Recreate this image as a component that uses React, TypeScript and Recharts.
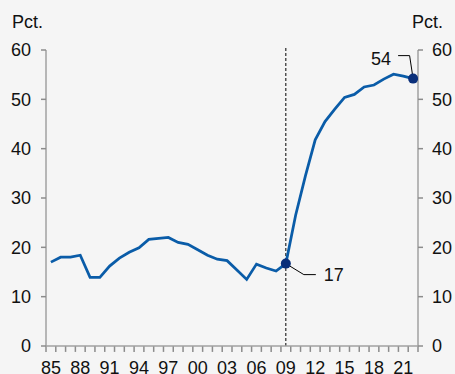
import React from 'react';
import { LineChart, Line, XAxis, YAxis, ReferenceLine } from 'recharts';

const years: number[] = [
  1985, 1986, 1987, 1988, 1989, 1990, 1991, 1992, 1993, 1994,
  1995, 1996, 1997, 1998, 1999, 2000, 2001, 2002, 2003, 2004,
  2005, 2006, 2007, 2008, 2009, 2010, 2011, 2012, 2013, 2014,
  2015, 2016, 2017, 2018, 2019, 2020, 2021, 2022,
];
const share: number[] = [
  17.0, 18.0, 18.0, 18.4, 13.9, 13.9, 16.2, 17.8, 19.0, 19.9,
  21.6, 21.8, 22.0, 21.0, 20.6, 19.5, 18.4, 17.6, 17.3, 15.4,
  13.5, 16.6, 15.8, 15.2, 16.7, 26.5, 34.5, 41.8, 45.5, 48.0,
  50.4, 51.0, 52.5, 52.9, 54.1, 55.1, 54.7, 54.2,
];
const yTicks: number[] = [0, 10, 20, 30, 40, 50, 60];
const markerYear = 2009;
const highlightYears: number[] = [2009, 2022];
const unitLabel = 'Pct.';

const data = years.map((y, i) => ({ year: y, v: share[i] }));
const boundaries = years.map((y) => y - 0.5).concat([years[years.length - 1] + 0.5]);

const FONT = '"Liberation Sans", Arial, sans-serif';
const AXIS = '#a0a0a0';
const TICK = '#8c8c8c';
const LINE = '#0a5ca8';
const DOT = '#0a2f7a';
const FS = 18;

const XTick = (props: any) => {
  const { x, y, payload, width } = props;
  const plotW = typeof width === 'number' && width > 0 ? width : 371.5;
  const half = plotW / years.length / 2;
  const yr = Math.round(payload.value + 0.5);
  const showLabel = yr <= years[years.length - 1] && yr % 3 === 2;
  if (!showLabel) return <g />;
  return (
    <text x={x + half} y={y} dy="0.71em" textAnchor="middle" fill="#111" fontSize={FS} fontFamily={FONT}>
      {String(yr).slice(2)}
    </text>
  );
};

const renderDot = (props: any) => {
  const { cx, cy, index, payload } = props;
  if (!highlightYears.includes(payload.year)) return <g key={`d${index}`} />;
  const txt = String(Math.round(payload.v));
  if (payload.year === markerYear) {
    return (
      <g key={`d${index}`}>
        <polyline points={`${cx},${cy} ${cx + 18},${cy + 11} ${cx + 30},${cy + 11}`} fill="none" stroke="#000" strokeWidth={1} />
        <circle cx={cx} cy={cy} r={5} fill={DOT} />
        <text x={cx + 38} y={cy + 11} dy="0.36em" fontSize={FS} fontFamily={FONT} fill="#111">{txt}</text>
      </g>
    );
  }
  return (
    <g key={`d${index}`}>
      <polyline points={`${cx - 15},${cy - 23} ${cx - 3.5},${cy - 23} ${cx},${cy}`} fill="none" stroke="#000" strokeWidth={1} />
      <circle cx={cx} cy={cy} r={5} fill={DOT} />
      <text x={cx - 22} y={cy - 20.5} dy="0.36em" textAnchor="end" fontSize={FS} fontFamily={FONT} fill="#111">{txt}</text>
    </g>
  );
};

export default function App() {
  const tickStyle = { fill: '#111', fontSize: FS, fontFamily: FONT };
  return (
    <div style={{ position: 'fixed', left: 0, top: 0, width: 455, height: 374, background: '#f5f5f5', overflow: 'hidden' }}>
      <LineChart width={455} height={374} data={data} margin={{ top: 50, right: 0, left: 0, bottom: 0 }}>
        <XAxis
          dataKey="year"
          type="number"
          domain={[years[0] - 0.5, years[years.length - 1] + 0.5]}
          ticks={boundaries}
          interval={0}
          height={28}
          tickSize={5}
          tickMargin={10}
          stroke={AXIS}
          tickLine={false}
          axisLine={{ stroke: AXIS, strokeWidth: 1.5 }}
          tick={<XTick />}
          allowDataOverflow
        />
        <YAxis
          yAxisId="left"
          domain={[0, 60]}
          ticks={yTicks}
          interval={0}
          width={46}
          tickSize={5}
          tickMargin={10}
          stroke={AXIS}
          axisLine={{ stroke: AXIS, strokeWidth: 1.5 }}
          tickLine={{ stroke: TICK, strokeWidth: 1.5 }}
          tick={tickStyle}
          label={{
            value: unitLabel,
            content: (p: any) => (
              <text x={p.viewBox.x + 12} y={p.viewBox.y - 22} fontSize={FS} fontFamily={FONT} fill="#111">{unitLabel}</text>
            ),
          }}
        />
        <YAxis
          yAxisId="right"
          orientation="right"
          domain={[0, 60]}
          ticks={yTicks}
          interval={0}
          width={37}
          tickSize={5}
          tickMargin={9}
          stroke={AXIS}
          axisLine={{ stroke: AXIS, strokeWidth: 1.5 }}
          tickLine={{ stroke: TICK, strokeWidth: 1.5 }}
          tick={tickStyle}
          label={{
            value: unitLabel,
            content: (p: any) => (
              <text x={p.viewBox.x - 6} y={p.viewBox.y - 22} fontSize={FS} fontFamily={FONT} fill="#111">{unitLabel}</text>
            ),
          }}
        />
        {boundaries.map((b) => (
          <ReferenceLine
            key={`t${b}`}
            yAxisId="left"
            segment={[{ x: b, y: 0 }, { x: b, y: -1.2 }]}
            stroke={TICK}
            strokeWidth={1.5}
            ifOverflow="visible"
          />
        ))}
        <ReferenceLine
          yAxisId="left"
          segment={[{ x: markerYear, y: 0 }, { x: markerYear, y: 60.6 }]}
          stroke="#000"
          strokeWidth={1}
          strokeDasharray="3 2"
          ifOverflow="visible"
        />
        <Line
          yAxisId="right"
          dataKey="v"
          stroke="none"
          strokeWidth={0}
          dot={false}
          activeDot={false}
          legendType="none"
          isAnimationActive={false}
        />
        <Line
          yAxisId="left"
          dataKey="v"
          stroke={LINE}
          strokeWidth={2.75}
          dot={renderDot}
          activeDot={false}
          isAnimationActive={false}
        />
      </LineChart>
    </div>
  );
}
